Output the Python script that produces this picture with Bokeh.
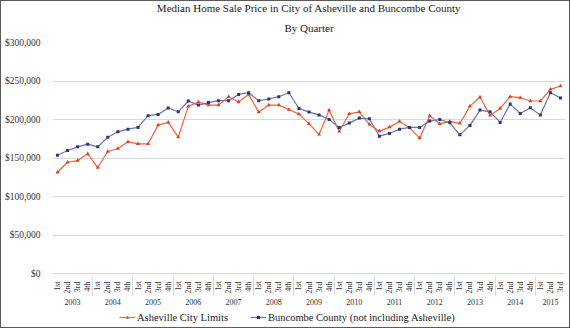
import math
from bokeh.plotting import figure
from bokeh.layouts import column
from bokeh.models import FactorRange, NumeralTickFormatter, Legend, LegendItem, Title, FixedTicker
from bokeh.embed import file_html
from bokeh.resources import INLINE

years = [str(y) for y in range(2003, 2016)]
quarters = ["1st", "2nd", "3rd", "4th"]
factors = [(y, q) for y in years for q in quarters][:51]

asheville_k = [131.5, 144.5, 146.7, 155.4, 137.6, 158.4, 162.3, 171.0, 168.4, 168.4,
               192.7, 196.2, 177.0, 217.0, 222.7, 218.7, 218.7, 229.6, 222.7, 232.6,
               209.6, 218.7, 218.7, 212.9, 207.0, 194.4, 180.6, 212.2, 184.5, 207.4,
               210.0, 193.6, 184.9, 190.1, 197.5, 189.2, 175.8, 204.8, 194.4, 197.5,
               194.9, 217.4, 229.2, 205.3, 214.4, 229.6, 228.3, 224.0, 224.0, 239.2, 243.5]
buncombe_k = [153.6, 159.7, 164.5, 168.0, 164.5, 177.0, 184.0, 187.5, 189.7, 205.0,
              206.6, 215.0, 210.0, 224.0, 218.7, 222.0, 224.5, 224.5, 232.6, 234.8,
              224.5, 226.6, 229.6, 234.8, 214.4, 209.6, 206.0, 200.0, 189.7, 195.3,
              201.8, 201.0, 178.4, 181.9, 187.5, 189.7, 189.7, 197.9, 200.0, 195.7,
              180.1, 192.3, 212.2, 210.0, 196.2, 220.0, 207.9, 215.2, 205.7, 234.8, 227.9]
asheville = [v * 1000 for v in asheville_k]
buncombe = [v * 1000 for v in buncombe_k]
y_ticks = [0, 50000, 100000, 150000, 200000, 250000, 300000]
series_names = ["Asheville City Limits", "Buncombe County (not including Asheville)"]

FONT = "Liberation Serif"
RED_LINE, RED_MARK = "#f0633c", "#e8381b"
BLUE_LINE, BLUE_MARK = "#6a74a8", "#28347c"
FRAME = "1px solid #5a5a5a"

p = figure(width=570, height=306,
           x_range=FactorRange(*factors, factor_padding=0, group_padding=0, range_padding=0),
           y_range=(0, 300000), output_backend="svg", toolbar_location=None,
           min_border_left=50, min_border_right=6, min_border_top=41, min_border_bottom=34)
p.styles = {"border-top": FRAME, "border-left": FRAME, "border-right": FRAME}
p.outline_line_color = None
p.background_fill_color = "white"
p.border_fill_color = "white"

p.add_layout(Title(text="By Quarter", align="center", text_font=FONT, text_font_size="11px",
                   text_font_style="normal", text_color="#222222", standoff=18), "above")
p.add_layout(Title(text="Median Home Sale Price in City of Asheville and Buncombe County",
                   align="center", text_font=FONT, text_font_size="11px",
                   text_font_style="normal", text_color="#222222", standoff=-6), "above")

p.line(factors, asheville, line_color=RED_LINE, line_width=1.2)
p.scatter(factors, asheville, marker="triangle", size=4, fill_color=RED_MARK, line_color=None)
p.line(factors, buncombe, line_color=BLUE_LINE, line_width=1.2)
p.scatter(factors, buncombe, marker="square", size=3, fill_color=BLUE_MARK, line_color=None)

p.yaxis.ticker = FixedTicker(ticks=y_ticks)
p.yaxis.formatter = NumeralTickFormatter(format="$0,0")
p.yaxis.axis_line_color = None
p.yaxis.major_tick_line_color = None
p.yaxis.minor_tick_line_color = None
p.yaxis.major_label_text_font = FONT
p.yaxis.major_label_text_font_size = "9.5px"
p.yaxis.major_label_text_color = "#333333"
p.yaxis.major_label_standoff = 6

p.ygrid.grid_line_color = "#d9d9d9"
p.ygrid.grid_line_width = 1
p.xgrid.grid_line_color = None

xa = p.xaxis[0]
xa.axis_line_color = "#d9d9d9"
xa.major_tick_line_color = None
xa.minor_tick_line_color = None
xa.major_label_orientation = math.pi / 2
xa.major_label_text_font = FONT
xa.major_label_text_font_size = "8px"
xa.major_label_text_color = "#333333"
xa.major_label_standoff = 2
xa.group_text_font = FONT
xa.group_text_font_size = "8px"
xa.group_text_font_style = "normal"
xa.group_text_color = "#333333"
xa.separator_line_color = "#d9d9d9"
xa.separator_line_width = 1

# legend strip below the chart (its sample glyphs sit outside the visible range)
lg = figure(width=570, height=22, x_range=(0, 1), y_range=(0, 1), output_backend="svg",
            toolbar_location=None, min_border=0)
lg.styles = {"border-bottom": FRAME, "border-left": FRAME, "border-right": FRAME}
lg.axis.visible = False
lg.grid.visible = False
lg.outline_line_color = None
lg.background_fill_color = "white"
lg.border_fill_color = "white"
off = [-10.0, -11.0]
a1 = lg.line(x=off, y=off, line_color=RED_LINE, line_width=1.2)
a2 = lg.scatter(x=off, y=off, marker="triangle", size=4, fill_color=RED_MARK, line_color=None)
b1 = lg.line(x=off, y=off, line_color=BLUE_LINE, line_width=1.2)
b2 = lg.scatter(x=off, y=off, marker="square", size=3, fill_color=BLUE_MARK, line_color=None)
legend = Legend(items=[LegendItem(label=series_names[0], renderers=[a1, a2]),
                       LegendItem(label=series_names[1], renderers=[b1, b2])],
                orientation="horizontal", location=(67, 5), spacing=22, padding=0, margin=0,
                label_text_font=FONT, label_text_font_size="10.5px", label_text_color="#222222",
                glyph_width=16, glyph_height=8, label_standoff=2, label_height=12,
                border_line_color=None, background_fill_alpha=0)
lg.add_layout(legend, "center")

layout = column(p, lg, spacing=0)
open("out.html", "w").write(file_html(layout, INLINE))
